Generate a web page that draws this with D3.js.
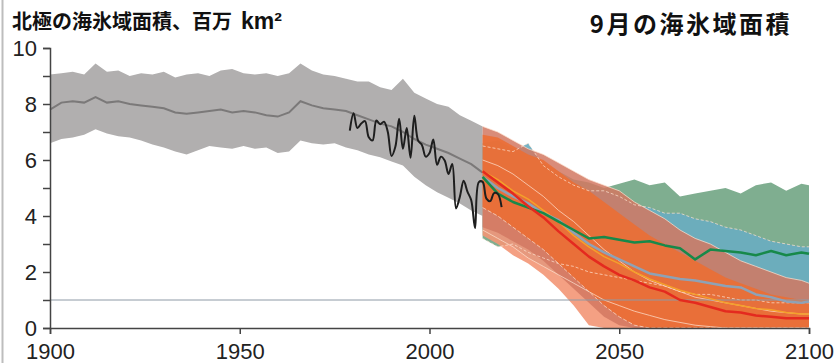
<!DOCTYPE html>
<html>
<head>
<meta charset="utf-8">
<script src="https://cdn.jsdelivr.net/npm/d3@7"></script>
<style>
    body { margin: 0; background: #fff; }
    .tick text { font-family: "Liberation Sans", Arial, sans-serif; font-size: 22px; fill: #222; }
    .title { font-family: "Noto Sans CJK JP", sans-serif; font-weight: bold; fill: #111; }
</style>
</head>
<body>
<div id="chart"></div>
<script>

// historical model range, every 3 years
let histYears = [1900, 1903, 1906, 1909, 1912, 1915, 1918, 1921, 1924, 1927, 1930, 1933, 1936, 1939, 1942, 1945, 1948, 1951, 1954, 1957,
    1960, 1963, 1966, 1969, 1972, 1975, 1978, 1981, 1984, 1987, 1990, 1993, 1996, 1999, 2002, 2005, 2008, 2011, 2014];
let histHi = [9.05, 9.1, 9.15, 9.05, 9.45, 9.15, 9.2, 9.0, 9.1, 9.05, 9.15, 8.95, 9.05, 9.1, 9.0, 9.2, 9.25, 9.1, 9.05, 9.1,
    9.0, 9.1, 9.45, 9.2, 9.05, 9.0, 8.9, 8.8, 8.8, 8.6, 8.5, 8.9, 8.4, 8.2, 8.0, 7.9, 7.6, 7.4, 7.2];
let histLo = [6.6, 6.75, 6.8, 6.9, 7.1, 6.95, 6.85, 6.8, 6.7, 6.55, 6.45, 6.3, 6.2, 6.35, 6.5, 6.45, 6.4, 6.5, 6.4, 6.45,
    6.25, 6.3, 6.7, 6.6, 6.55, 6.6, 6.45, 6.35, 6.2, 6.1, 5.95, 5.8, 5.4, 5.1, 4.85, 4.65, 4.45, 4.2, 4.0];
let histMean = [7.8, 8.05, 8.1, 8.05, 8.25, 8.05, 8.1, 8.0, 7.95, 7.9, 7.85, 7.7, 7.65, 7.7, 7.75, 7.8, 7.7, 7.75, 7.7, 7.6,
    7.55, 7.7, 8.1, 7.95, 7.85, 7.8, 7.75, 7.6, 7.45, 7.3, 7.2, 7.0, 6.75, 6.55, 6.4, 6.25, 6.05, 5.85, 5.55];

// observed september extent
let obsYears = d3.range(1979, 2020);
let obsVals = [7.05, 7.67, 7.14, 7.30, 7.39, 6.81, 6.70, 7.41, 7.28, 7.37, 7.01, 6.14, 6.47, 7.47, 6.40, 7.14, 6.08, 7.58, 6.69, 6.54,
    6.12, 6.25, 6.73, 5.83, 6.12, 5.98, 5.50, 5.86, 4.27, 4.69, 5.26, 4.87, 4.56, 3.57, 5.21, 5.22, 4.62, 4.53, 4.82, 4.79, 4.32];

// scenario projections
let futYears = [2014, 2018, 2022, 2026, 2030, 2034, 2038, 2042, 2046, 2050, 2054, 2058, 2062, 2066, 2070, 2074, 2078, 2082, 2086, 2090, 2094, 2098, 2100];
let greenHi = [6.6, 6.7, 6.4, 6.1, 5.9, 5.6, 5.3, 5.2, 5.0, 5.15, 5.3, 5.1, 5.2, 4.7, 4.8, 4.9, 5.0, 4.8, 5.1, 5.2, 4.9, 5.15, 5.1];
let greenLo = [3.2, 2.9, 3.0, 2.7, 2.5, 2.3, 2.2, 2.0, 1.9, 1.8, 1.7, 1.6, 1.5, 1.3, 1.2, 1.2, 1.1, 1.0, 1.0, 0.9, 0.9, 0.9, 0.9];
let blueHi = [6.5, 6.4, 6.3, 6.6, 5.8, 5.4, 5.1, 4.9, 4.9, 4.7, 4.4, 4.3, 4.1, 4.1, 3.9, 3.8, 3.6, 3.5, 3.3, 3.1, 3.0, 2.9, 2.9];
let blueLo = [3.5, 3.2, 2.9, 2.5, 2.2, 1.9, 1.6, 1.3, 1.0, 0.8, 0.6, 0.45, 0.3, 0.2, 0.1, 0.05, 0, 0, 0, 0, 0, 0, 0];
let salmonHi = [6.0, 5.8, 5.5, 5.1, 4.7, 4.2, 3.8, 3.3, 2.8, 2.4, 2.0, 1.7, 1.5, 1.3, 1.1, 1.0, 0.9, 0.8, 0.7, 0.6, 0.55, 0.5, 0.5];
let salmonLo = [3.3, 3.0, 2.6, 2.3, 1.9, 1.4, 0.8, 0.1, 0, 0, 0, 0, 0, 0, 0, 0, 0, 0, 0, 0, 0, 0, 0];
let brownHi = [7.2, 7.0, 6.7, 6.4, 6.2, 5.9, 5.6, 5.3, 5.1, 4.9, 4.5, 4.2, 3.9, 3.5, 3.2, 3.0, 2.7, 2.4, 2.2, 2.0, 1.8, 1.7, 1.6];
let brownLo = [3.6, 3.4, 3.1, 2.8, 2.4, 1.9, 1.4, 0.9, 0.4, 0.1, 0, 0, 0, 0, 0, 0, 0, 0, 0, 0, 0, 0, 0];
let orangeHi = [6.9, 6.8, 6.5, 6.2, 6.0, 5.6, 5.2, 4.9, 4.5, 4.1, 3.7, 3.3, 3.0, 2.7, 2.4, 2.1, 1.8, 1.6, 1.4, 1.2, 1.1, 1.0, 1.0];
let orangeLo = [4.3, 4.0, 3.6, 3.2, 2.8, 2.3, 1.8, 1.3, 0.8, 0.4, 0.1, 0, 0, 0, 0, 0, 0, 0, 0, 0, 0, 0, 0];

let greenMean = [5.4, 4.8, 4.5, 4.3, 4.1, 3.8, 3.5, 3.2, 3.25, 3.15, 3.05, 3.1, 2.95, 2.85, 2.45, 2.8, 2.75, 2.7, 2.6, 2.75, 2.6, 2.7, 2.65];
let blueMean = [5.4, 5.0, 4.7, 4.45, 4.1, 3.85, 3.4, 3.0, 2.7, 2.45, 2.2, 1.95, 1.85, 1.75, 1.7, 1.6, 1.5, 1.45, 1.2, 1.1, 0.95, 0.9, 0.95];
let orangeMean = [5.6, 5.3, 4.9, 4.6, 4.2, 3.8, 3.3, 2.9, 2.55, 2.3, 2.0, 1.75, 1.55, 1.35, 1.2, 1.05, 0.9, 0.8, 0.7, 0.65, 0.55, 0.5, 0.5];
let redMean = [5.6, 5.2, 4.8, 4.35, 3.95, 3.45, 3.0, 2.55, 2.2, 1.9, 1.7, 1.45, 1.3, 1.0, 0.9, 0.75, 0.6, 0.55, 0.45, 0.4, 0.35, 0.35, 0.35];

let xTicks = [1900, 1950, 2000, 2050, 2100];
let yTicks = [0, 2, 4, 6, 8, 10];
let yMinor = [1, 3, 5, 7, 9];

let width = 837, height = 363;

let svg = d3.select("#chart")
    .append("svg")
    .attr("width", width)
    .attr("height", height);

let x = d3.scaleLinear().domain([1900, 2100]).range([50, 809]);
let y = d3.scaleLinear().domain([0, 10]).range([328, 48]);

// left border line
svg.append("line")
    .attr("x1", 2.5).attr("x2", 2.5)
    .attr("y1", 0).attr("y2", height)
    .attr("stroke", "#bdbdbd")
    .attr("stroke-width", 2);

function band(years, hi, lo) {
    return d3.area()
        .x((d, i) => x(years[i]))
        .y0((d, i) => y(lo[i]))
        .y1((d, i) => y(hi[i]))(hi);
}

function line(years, vals, curve) {
    return d3.line()
        .x((d, i) => x(years[i]))
        .y((d) => y(d))
        .curve(curve || d3.curveLinear)(vals);
}

// historical range
svg.append("path")
    .attr("d", band(histYears, histHi, histLo))
    .attr("fill", "#b1afaf");

svg.append("path")
    .attr("d", line(histYears, histMean))
    .attr("fill", "none")
    .attr("stroke", "#7b7979")
    .attr("stroke-width", 2);

// scenario ranges
let bands = [
    {hi: greenHi, lo: greenLo, fill: "#7fae90", op: 1},
    {hi: blueHi, lo: blueLo, fill: "#6aadc0", op: 0.92},
    {hi: salmonHi, lo: salmonLo, fill: "#f39676", op: 0.9},
    {hi: brownHi, lo: brownLo, fill: "#d27862", op: 0.85},
    {hi: orangeHi, lo: orangeLo, fill: "#ec6d33", op: 0.88}
];

bands.forEach(function(b) {
    svg.append("path")
        .attr("d", band(futYears, b.hi, b.lo))
        .attr("fill", b.fill)
        .attr("fill-opacity", b.op);
});

// pale edges of the ranges
let edges = [
    {vals: blueHi, dash: "3,2"},
    {vals: greenLo, dash: "3,2"},
    {vals: brownHi, dash: null},
    {vals: salmonHi, dash: null},
    {vals: orangeLo, dash: "4,2"},
    {vals: blueLo, dash: null}
];

edges.forEach(function(e) {
    svg.append("path")
        .attr("d", line(futYears, e.vals))
        .attr("fill", "none")
        .attr("stroke", "#fde2cf")
        .attr("stroke-opacity", 0.8)
        .attr("stroke-width", 0.9)
        .style("stroke-dasharray", e.dash);
});

// 1 million km2 reference line
svg.append("line")
    .attr("x1", x(1900)).attr("x2", x(2100))
    .attr("y1", y(1)).attr("y2", y(1))
    .attr("stroke", "#8e9aa6")
    .attr("stroke-width", 1);

// scenario means
let means = [
    {vals: orangeMean, color: "#f4a12a", w: 1.5},
    {vals: blueMean, color: "#8ea2b6", w: 2.5},
    {vals: greenMean, color: "#17894a", w: 2.5},
    {vals: redMean, color: "#e42a1f", w: 2.5}
];

means.forEach(function(m) {
    svg.append("path")
        .attr("d", line(futYears, m.vals))
        .attr("fill", "none")
        .attr("stroke", m.color)
        .attr("stroke-width", m.w)
        .attr("stroke-linejoin", "round");
});

// observations
svg.append("path")
    .attr("d", line(obsYears, obsVals, d3.curveCatmullRom.alpha(0.5)))
    .attr("fill", "none")
    .attr("stroke", "#1e1e1e")
    .attr("stroke-width", 2);

// axes
let xAxis = d3.axisBottom(x)
    .tickValues(xTicks)
    .tickFormat(d3.format("d"))
    .tickSize(6)
    .tickPadding(9);

let yAxis = d3.axisLeft(y)
    .tickValues(yTicks)
    .tickSize(7)
    .tickPadding(6);

let gx = svg.append("g")
    .attr("transform", "translate(0," + y(0) + ")")
    .call(xAxis);

let gy = svg.append("g")
    .attr("transform", "translate(" + x(1900) + ",0)")
    .call(yAxis);

svg.append("g")
    .attr("transform", "translate(" + x(1900) + ",0)")
    .call(d3.axisLeft(y).tickValues(yMinor).tickSize(7).tickFormat(""))
    .select(".domain").remove();

[gx, gy].forEach(function(g) {
    g.select(".domain").attr("stroke", "#444").attr("stroke-width", 1.5);
});
svg.selectAll(".tick line").attr("stroke", "#444").attr("stroke-width", 1.5);
gx.selectAll(".tick text").attr("dy", "0.72em");
gy.selectAll(".tick text").attr("dy", "0.36em");

// titles
let t1 = svg.append("text")
    .attr("class", "title")
    .attr("x", 12)
    .attr("y", 29)
    .style("font-size", "20px");

t1.append("tspan")
    .text("北極の海氷域面積、百万");

t1.append("tspan")
    .attr("dx", 9)
    .style("font-family", "'Liberation Sans', Arial, sans-serif")
    .style("font-size", "23px")
    .text("km²");

svg.append("text")
    .attr("class", "title")
    .attr("x", 792)
    .attr("y", 33)
    .attr("text-anchor", "end")
    .style("font-size", "24px")
    .style("letter-spacing", "2.5px")
    .text("9月の海氷域面積");

</script>
</body>
</html>
